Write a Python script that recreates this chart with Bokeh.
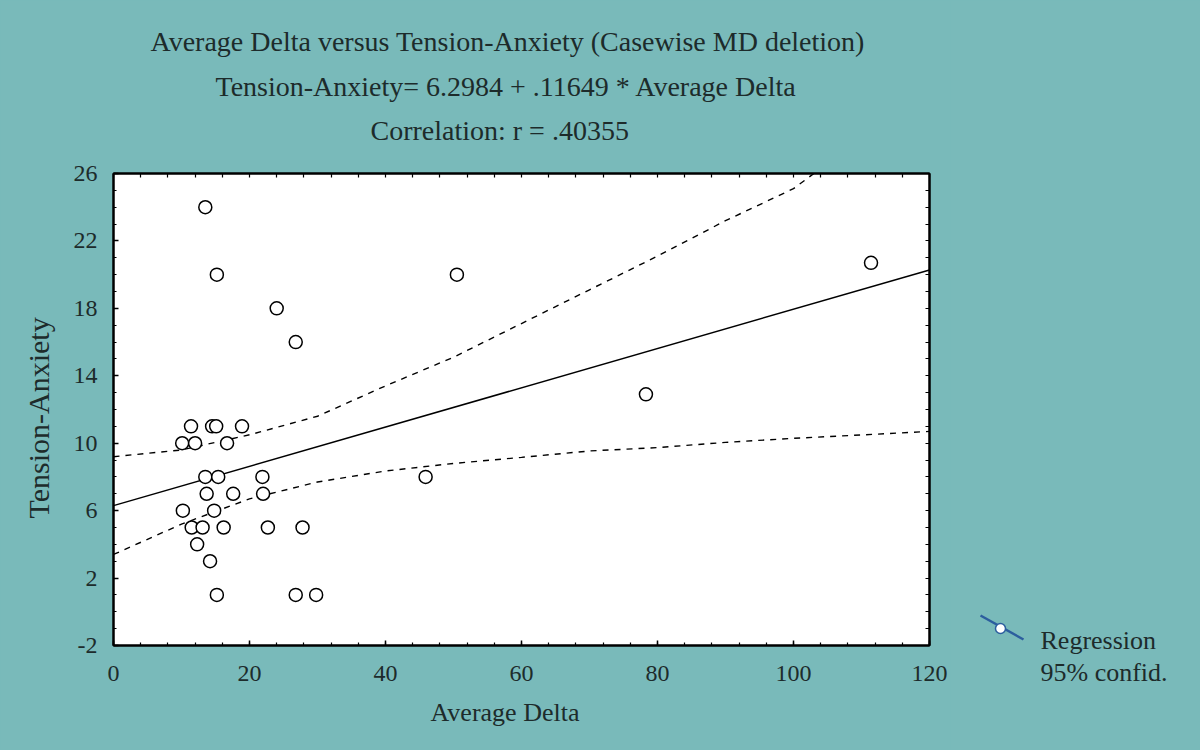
import numpy as np
from bokeh.plotting import figure
from bokeh.layouts import row
from bokeh.models import LinearAxis, Title, Range1d, FixedTicker
from bokeh.core.properties import value
from bokeh.embed import file_html
from bokeh.resources import INLINE

# ---------------- texts ----------------
TITLE_LINES = [
    "Average Delta versus Tension-Anxiety (Casewise MD deletion)",
    "Tension-Anxiety= 6.2984 + .11649 * Average Delta",
    "Correlation: r = .40355",
]
X_LABEL = "Average Delta"
Y_LABEL = "Tension-Anxiety"
LEGEND_LABELS = ["Regression", "95% confid."]

# ---------------- axes ----------------
x_ticks = [0, 20, 40, 60, 80, 100, 120]
x_minor_ticks = list(range(0, 121, 4))
y_ticks = [-2, 2, 6, 10, 14, 18, 22, 26]
y_minor_ticks = list(range(-2, 27, 1))

# ---------------- data ----------------
avg_delta = [13.5, 15.2, 24.0, 26.8, 11.4, 14.5, 15.1, 18.9, 10.1, 12.0,
             16.7, 13.5, 15.4, 21.9, 13.7, 17.6, 22.0, 10.2, 14.8, 11.5,
             13.1, 16.2, 22.7, 27.8, 12.3, 14.2, 15.2, 26.8, 29.8, 50.5,
             45.9, 78.3, 111.4]
tension_anxiety = [24, 20, 18, 16, 11, 11, 11, 11, 10, 10,
                   10, 8, 8, 8, 7, 7, 7, 6, 6, 5,
                   5, 5, 5, 5, 4, 3, 1, 1, 1, 20,
                   8, 12.9, 20.7]

# regression line as printed in the chart title
INTERCEPT = 6.2984
SLOPE = 0.11649
reg_x = [0, 120]

# 95% confidence band
band_upper_x = [0, 10, 20, 30, 40, 50, 60, 70, 80, 90, 100, 103]
band_upper = [9.2, 9.6, 10.5, 11.6, 13.4, 15.1, 17.1, 19.1, 21.1, 23.2, 25.1, 26.0]
band_lower_x = [0, 10, 20, 30, 40, 50, 60, 70, 80, 90, 100, 110, 120]
band_lower = [3.4, 5.2, 6.7, 7.7, 8.35, 8.8, 9.16, 9.54, 9.74, 10.05, 10.29, 10.49, 10.7]

# ---------------- style / layout ----------------
TEAL = "#79baba"
INK = "#1d2b2b"
SERIF = "Liberation Serif"
LEG_BLUE = "#2c5e9e"
MAIN_W = 950
LEG_W = 1200 - MAIN_W
H = 750
# legend sample positions (page pixels, y downward)
LEG_SEG = (980, 615, 1023, 639)
LEG_DOT = (1000, 628)
LEG_TEXT_X = 1040
LEG_TEXT_Y = [640, 672]

reg_y = [INTERCEPT + SLOPE * v for v in reg_x]

p = figure(width=MAIN_W, height=H, x_range=Range1d(0, 120), y_range=Range1d(-2, 26),
           output_backend="svg", toolbar_location=None,
           x_axis_location=None, y_axis_location=None,
           min_border_left=113, min_border_right=MAIN_W - 929, min_border_top=173,
           min_border_bottom=105,
           background_fill_color="white", border_fill_color=TEAL,
           outline_line_color="black", outline_line_width=2)
p.grid.visible = False

bottom_axis = LinearAxis(ticker=FixedTicker(ticks=x_ticks, minor_ticks=x_minor_ticks))
left_axis = LinearAxis(ticker=FixedTicker(ticks=y_ticks, minor_ticks=y_minor_ticks),
                       major_label_overrides={-2: "-2"})
# frame ticks on the top and right sides (ticks only, no labels)
top_axis = LinearAxis(ticker=FixedTicker(ticks=[], minor_ticks=x_minor_ticks))
right_axis = LinearAxis(ticker=FixedTicker(ticks=[], minor_ticks=y_minor_ticks))
p.add_layout(bottom_axis, "below")
p.add_layout(left_axis, "left")
p.add_layout(top_axis, "above")
p.add_layout(right_axis, "right")

for ax in [bottom_axis, left_axis, top_axis, right_axis]:
    ax.axis_line_color = "black"
    ax.axis_line_width = 2
    ax.major_tick_in = 5
    ax.major_tick_out = 0
    ax.minor_tick_in = 3
    ax.minor_tick_out = 0
    ax.major_tick_line_color = "black"
    ax.minor_tick_line_color = "black"
    ax.major_tick_line_width = 1.5
    ax.minor_tick_line_width = 1.2
    ax.major_label_text_font = SERIF
    ax.major_label_text_font_size = "24px"
    ax.major_label_text_color = INK
left_axis.major_label_standoff = 16
bottom_axis.major_label_standoff = 20
top_axis.minor_tick_in = 4
right_axis.minor_tick_in = 4

# marks
p.line(band_upper_x, band_upper, line_color="black", line_width=1.4, line_dash="6 6")
p.line(band_lower_x, band_lower, line_color="black", line_width=1.4, line_dash="6 6")
p.line(reg_x, reg_y, line_color="black", line_width=1.5)
p.scatter(avg_delta, tension_anxiety, marker="circle", size=13,
          fill_color="white", line_color="black", line_width=1.5)

# title lines (added from the plot outward)
for i, (txt, off) in enumerate(zip(TITLE_LINES[::-1], [257, 102, 37])):
    t = Title(text=txt, align="left", offset=off, text_font=SERIF,
              text_font_size="28px", text_font_style="normal",
              text_color=INK, standoff=11)
    if i == 0:
        try:
            t.padding = dict(left=0, right=0, top=0, bottom=22)
        except Exception:
            t.standoff = 55
    else:
        t.standoff = 12
    p.add_layout(t, "above")

# axis titles
p.add_layout(Title(text=X_LABEL, align="left", offset=317, text_font=SERIF,
                   text_font_size="26px", text_font_style="normal",
                   text_color=INK, standoff=24), "below")
p.add_layout(Title(text=Y_LABEL, align="left", offset=127, text_font=SERIF,
                   text_font_size="30px", text_font_style="normal",
                   text_color=INK, standoff=32), "left")

# legend panel (right of the plot)
lg = figure(width=LEG_W, height=H, x_range=Range1d(MAIN_W, 1200), y_range=Range1d(H, 0),
            output_backend="svg", toolbar_location=None, min_border=0,
            x_axis_location=None, y_axis_location=None, outline_line_color=None,
            background_fill_color=TEAL, border_fill_color=TEAL)
try:
    lg.frame_align = False
except Exception:
    pass
lg.grid.visible = False
lg.segment(x0=[LEG_SEG[0]], y0=[LEG_SEG[1]], x1=[LEG_SEG[2]], y1=[LEG_SEG[3]],
           line_color=LEG_BLUE, line_width=2.5)
lg.scatter([LEG_DOT[0]], [LEG_DOT[1]], marker="circle", size=10, fill_color="white",
           line_color=LEG_BLUE, line_width=1.5)
lg.text(x=[LEG_TEXT_X] * 2, y=LEG_TEXT_Y, text=LEGEND_LABELS, text_font=value(SERIF),
        text_font_size="26px", text_baseline="alphabetic", text_align="left",
        text_color=INK)

layout = row(p, lg, spacing=0, styles={"background-color": TEAL})
open("out.html", "w").write(file_html(layout, INLINE))
